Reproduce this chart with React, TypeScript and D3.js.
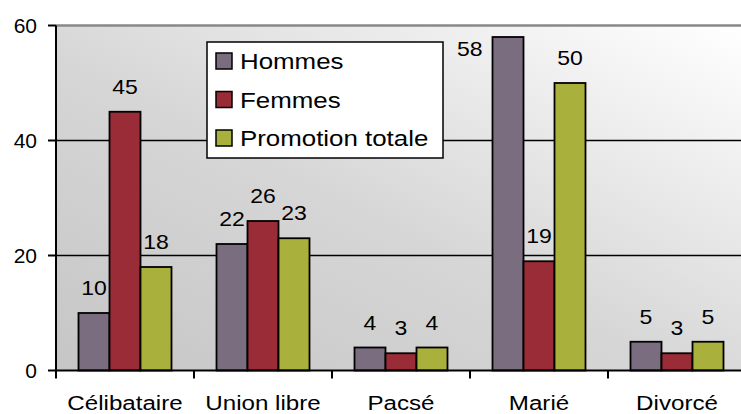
import React from "react";
import * as d3 from "d3";

const categories = ["Célibataire", "Union libre", "Pacsé", "Marié", "Divorcé"];
const seriesNames = ["Hommes", "Femmes", "Promotion totale"];
const hommes = [10, 22, 4, 58, 5];
const femmes = [45, 26, 3, 19, 3];
const promotion = [18, 23, 4, 50, 5];
const yTicks = [0, 20, 40, 60];
const colors = ["#7a6d80", "#992c36", "#a9b03b"];

const W = 741, H = 414;
const left = 56, right = 746, top = 25.5, bottom = 370.5;
const font = "Liberation Sans, Arial, sans-serif";
const SX = 1.15;

function T({ x, y, size, anchor = "start", children }: any) {
  return (
    <text transform={`translate(${x},${y}) scale(${SX},1)`} fontSize={size} textAnchor={anchor} fill="#000">
      {children}
    </text>
  );
}

export default function App() {
  const series = [hommes, femmes, promotion];
  const x = d3.scaleBand<string>().domain(categories).range([left, right]).paddingInner(0).paddingOuter(0);
  const x1 = d3.scaleBand<string>().domain(seriesNames).range([0, x.bandwidth()]).paddingOuter(0.726).paddingInner(0);
  const y = d3.scaleLinear().domain([0, 60]).range([bottom, top]);

  return (
    <svg width={W} height={H} style={{ position: "absolute", left: 0, top: 0 }} fontFamily={font}>
      <defs>
        <linearGradient id="bg" x1="0" y1="1" x2="1" y2="0">
          <stop offset="0" stopColor="#c6c6c6" />
          <stop offset="0.45" stopColor="#d6d6d6" />
          <stop offset="1" stopColor="#ffffff" />
        </linearGradient>
      </defs>
      <rect x={left} y={top} width={W - left} height={bottom - top} fill="url(#bg)" />
      <line x1={left} x2={W} y1={top} y2={top} stroke="#888" strokeWidth={2.5} />
      {yTicks.filter(t => t > 0 && t < 60).map(t => (
        <line key={t} x1={left} x2={W} y1={y(t)} y2={y(t)} stroke="#000" strokeWidth={1.5} />
      ))}
      {categories.map((c, ci) =>
        series.map((s, si) => (
          <rect key={c + si} x={x(c)! + x1(seriesNames[si])!} y={y(s[ci])} width={x1.bandwidth()}
            height={bottom - y(s[ci])} fill={colors[si]} stroke="#000" strokeWidth={1.8} />
        ))
      )}
      {categories.map((c, ci) =>
        series.map((s, si) => {
          const bx = x(c)! + x1(seriesNames[si])!;
          const clipped = s[ci] > 55;
          return (
            <T key={"l" + c + si} x={clipped ? bx - 10 : bx + x1.bandwidth() / 2}
              y={clipped ? y(s[ci]) + 19 : y(s[ci]) - 18} anchor={clipped ? "end" : "middle"} size={20}>
              {s[ci]}
            </T>
          );
        })
      )}
      <line x1={left} x2={left} y1={top} y2={bottom} stroke="#000" strokeWidth={2} />
      <line x1={left} x2={W} y1={bottom} y2={bottom} stroke="#000" strokeWidth={2} />
      {yTicks.map(t => (
        <g key={"yt" + t}>
          <line x1={left - 8} x2={left} y1={y(t)} y2={y(t)} stroke="#000" strokeWidth={2} />
          <text x={37} y={y(t) + 7.5} textAnchor="end" fontSize={21}>{t}</text>
        </g>
      ))}
      {categories.map((c) => (
        <g key={"xt" + c}>
          <line x1={x(c)!} x2={x(c)!} y1={bottom} y2={bottom + 8} stroke="#000" strokeWidth={2} />
          <T x={x(c)! + x.bandwidth() / 2} y={409.5} anchor="middle" size={21}>{c}</T>
        </g>
      ))}
      <rect x={207} y={42} width={236} height={116} fill="#fff" stroke="#000" strokeWidth={1.5} />
      {seriesNames.map((n, i) => (
        <g key={"lg" + n}>
          <rect x={216} y={53 + i * 38.5} width={16} height={16} fill={colors[i]} stroke="#000" strokeWidth={1.5} />
          <T x={240} y={69 + i * 38.5} size={22.5}>{n}</T>
        </g>
      ))}
    </svg>
  );
}
